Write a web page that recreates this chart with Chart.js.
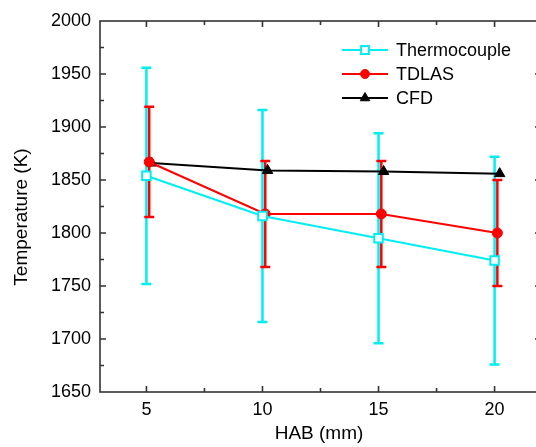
<!DOCTYPE html>
<html>
<head>
<meta charset="utf-8">
<script src="https://cdn.jsdelivr.net/npm/chart.js@4.4.1/dist/chart.umd.min.js"></script>
<style>
  html, body { margin: 0; padding: 0; background: #fff; overflow: hidden; }
  #wrap { width: 536px; height: 447px; overflow: hidden; }
</style>
</head>
<body>
<div id="wrap"><canvas id="tempChart" width="549" height="447"></canvas></div>
<script>
// HAB positions (mm) and measured temperatures (K)
const habTicks = [5, 10, 15, 20];
const yTicksStep = 50;

const thermoX = [5, 10, 15, 20];
const thermoY = [1854, 1816, 1795, 1774];
const thermoErr = [102, 100, 99, 98];

const tdlasX = [5.12, 10.12, 15.12, 20.12];
const tdlasY = [1867, 1818, 1818, 1800];
const tdlasErr = [52, 50, 50, 50];

const cfdX = [5.22, 10.22, 15.22, 20.22];
const cfdY = [1866, 1859, 1858, 1856];

const CYAN = "#00eef2";
const RED = "#ff0000";
const BLACK = "#000000";
const FONT = "'Liberation Sans', Arial, sans-serif";

function toPoints(xs, ys) {
  return xs.map((x, i) => ({ x: x, y: ys[i] }));
}

// error bars, drawn under the lines and markers
const errorBars = {
  id: "errorBars",
  beforeDatasetsDraw(chart) {
    const ctx = chart.ctx;
    const xs = chart.scales.x;
    const ys = chart.scales.y;
    const sets = [
      { x: thermoX, y: thermoY, e: thermoErr, color: CYAN },
      { x: tdlasX, y: tdlasY, e: tdlasErr, color: RED },
    ];
    ctx.save();
    ctx.lineWidth = 2.5;
    sets.forEach((s) => {
      ctx.strokeStyle = s.color;
      s.x.forEach((xv, i) => {
        const px = xs.getPixelForValue(xv);
        const top = ys.getPixelForValue(s.y[i] + s.e[i]);
        const bot = ys.getPixelForValue(s.y[i] - s.e[i]);
        ctx.beginPath();
        ctx.moveTo(px, top);
        ctx.lineTo(px, bot);
        ctx.moveTo(px - 5, top);
        ctx.lineTo(px + 5, top);
        ctx.moveTo(px - 5, bot);
        ctx.lineTo(px + 5, bot);
        ctx.stroke();
      });
    });
    ctx.restore();
  },
};

// box frame with inward ticks, axis titles and legend
const frameAndLegend = {
  id: "frameAndLegend",
  afterDraw(chart) {
    const ctx = chart.ctx;
    const a = chart.chartArea;
    const xs = chart.scales.x;
    const ys = chart.scales.y;
    ctx.save();
    ctx.strokeStyle = "#333";
    ctx.lineWidth = 1.6;
    ctx.strokeRect(a.left, a.top, a.right - a.left, a.bottom - a.top);

    ctx.beginPath();
    // x ticks (bottom and top)
    for (let v = 2.5; v <= 22; v += 2.5) {
      if (v < xs.min || v > xs.max) continue;
      const px = xs.getPixelForValue(v);
      const len = v % 5 === 0 ? 6 : 4;
      ctx.moveTo(px, a.bottom);
      ctx.lineTo(px, a.bottom - len);
      ctx.moveTo(px, a.top);
      ctx.lineTo(px, a.top + len);
    }
    // y ticks (left and right)
    for (let v = ys.min + yTicksStep / 2; v < ys.max; v += yTicksStep / 2) {
      const py = ys.getPixelForValue(v);
      const len = v % yTicksStep === 0 ? 6 : 4;
      ctx.moveTo(a.left, py);
      ctx.lineTo(a.left + len, py);
      ctx.moveTo(a.right, py);
      ctx.lineTo(a.right - len, py);
    }
    ctx.stroke();

    // axis titles
    ctx.fillStyle = "#000";
    ctx.font = "19px " + FONT;
    ctx.textAlign = "center";
    ctx.textBaseline = "alphabetic";
    ctx.fillText("HAB (mm)", 319, 439);
    ctx.save();
    ctx.translate(27, 217);
    ctx.rotate(-Math.PI / 2);
    ctx.fillText("Temperature (K)", 0, 0);
    ctx.restore();

    // legend: line + marker + label
    const rows = [50, 74, 98];
    chart.data.datasets.forEach((ds, i) => {
      const y = rows[i];
      ctx.strokeStyle = ds.borderColor;
      ctx.lineWidth = 2;
      ctx.beginPath();
      ctx.moveTo(342, y);
      ctx.lineTo(388, y);
      ctx.stroke();
      ctx.fillStyle = ds.pointBackgroundColor;
      ctx.strokeStyle = ds.pointBorderColor;
      ctx.lineWidth = ds.pointBorderWidth;
      Chart.helpers.drawPoint(ctx, {
        pointStyle: ds.pointStyle,
        radius: ds.pointRadius - 0.5,
        borderWidth: ds.pointBorderWidth,
        rotation: 0,
      }, 365, y);
      ctx.fillStyle = "#000";
      ctx.font = "18px " + FONT;
      ctx.textAlign = "left";
      ctx.textBaseline = "middle";
      ctx.fillText(ds.label, 396, y + 1);
    });
    ctx.restore();
  },
};

const ctxTemp = document.getElementById("tempChart");

new Chart(ctxTemp, {
  type: "line",
  data: {
    datasets: [
      {
        label: "Thermocouple",
        data: toPoints(thermoX, thermoY),
        borderColor: CYAN,
        borderWidth: 2,
        pointStyle: "rect",
        pointRadius: 6,
        pointBorderWidth: 2,
        pointBorderColor: CYAN,
        pointBackgroundColor: "#fff",
      },
      {
        label: "TDLAS",
        data: toPoints(tdlasX, tdlasY),
        borderColor: RED,
        borderWidth: 2,
        pointStyle: "circle",
        pointRadius: 5,
        pointBorderWidth: 1,
        pointBorderColor: RED,
        pointBackgroundColor: RED,
      },
      {
        label: "CFD",
        data: toPoints(cfdX, cfdY),
        borderColor: BLACK,
        borderWidth: 2,
        pointStyle: "triangle",
        pointRadius: 6,
        pointBorderWidth: 1,
        pointBorderColor: BLACK,
        pointBackgroundColor: BLACK,
      },
    ],
  },
  options: {
    responsive: false,
    animation: false,
    layout: { padding: { top: 21, right: 3, left: 0, bottom: 0 } },
    plugins: { legend: { display: false }, tooltip: { enabled: false } },
    scales: {
      x: {
        type: "linear",
        min: 3,
        max: 22,
        grid: { display: false, drawTicks: false },
        border: { display: false },
        afterBuildTicks: (scale) => {
          scale.ticks = habTicks.map((v) => ({ value: v }));
        },
        afterFit: (scale) => {
          scale.height = 55;
        },
        ticks: {
          padding: 7,
          color: "#000",
          font: { family: FONT, size: 18 },
          maxRotation: 0,
          callback: (v) => String(v),
        },
      },
      y: {
        min: 1650,
        max: 2000,
        grid: { display: false, drawTicks: false },
        border: { display: false },
        afterFit: (scale) => {
          scale.width = 100;
        },
        ticks: {
          stepSize: yTicksStep,
          padding: 9,
          color: "#000",
          font: { family: FONT, size: 18 },
          callback: (v) => String(v),
        },
      },
    },
  },
  plugins: [errorBars, frameAndLegend],
});
</script>
</body>
</html>
